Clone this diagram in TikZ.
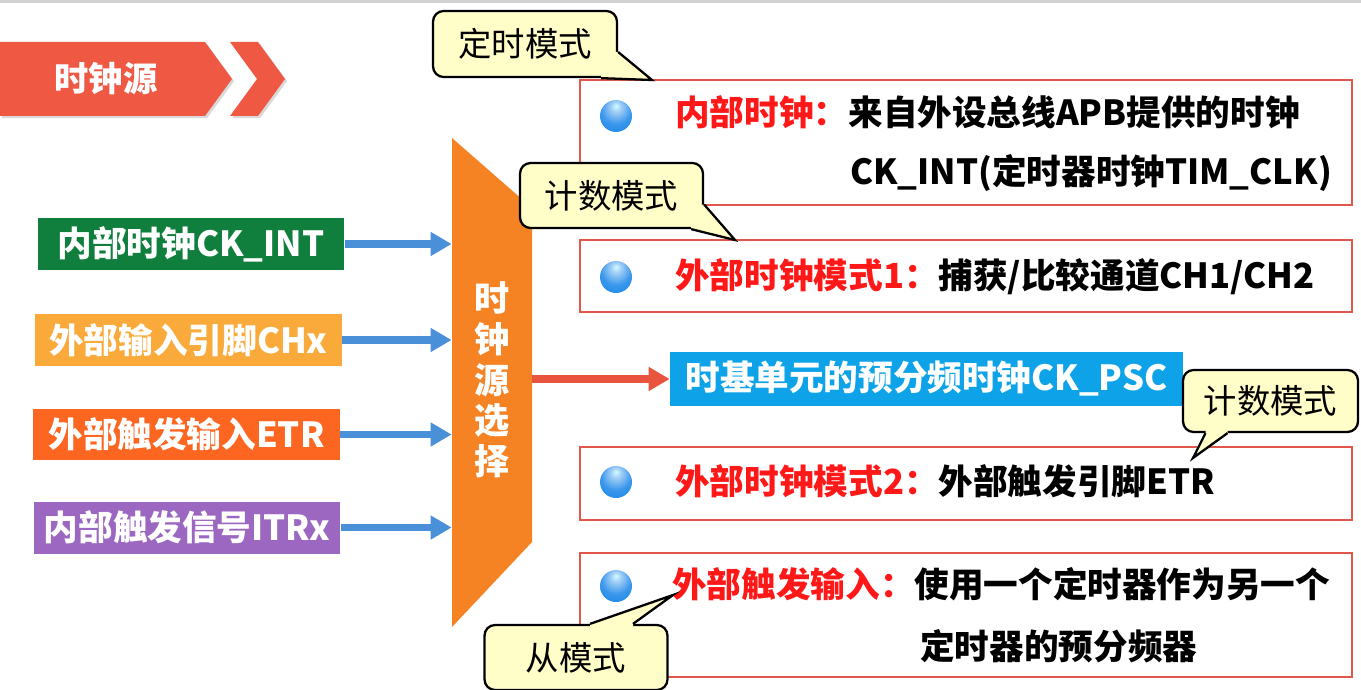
\documentclass[tikz,border=0pt]{standalone}
\usepackage{fontspec}
\setmainfont{Noto Sans CJK SC}
\usepackage{xcolor}
\usetikzlibrary{arrows.meta,positioning,calc,shadows}

\definecolor{bannerred}{RGB}{239,88,66}
\definecolor{ckgreen}{RGB}{16,127,62}
\definecolor{chxyellow}{RGB}{250,170,58}
\definecolor{etrorange}{RGB}{252,102,33}
\definecolor{itrpurple}{RGB}{156,103,193}
\definecolor{muxorange}{RGB}{245,130,35}
\definecolor{arrowblue}{RGB}{74,144,217}
\definecolor{arrowred}{RGB}{232,84,62}
\definecolor{pscblue}{RGB}{14,163,232}
\definecolor{boxred}{RGB}{224,88,76}
\definecolor{textred}{RGB}{255,24,24}
\definecolor{tipyellow}{RGB}{255,253,200}
\definecolor{bulletblue}{RGB}{22,132,232}

\pgfdeclareradialshading{bulletshade}{\pgfpoint{0bp}{16bp}}{%
  color(0bp)=(white!80!cyan); color(8bp)=(bulletblue!40!white);
  color(24bp)=(bulletblue!85!white); color(44bp)=(bulletblue); color(80bp)=(bulletblue!80!black)}

\begin{document}
\begin{tikzpicture}[
  x=0.02cm, y=-0.02cm,
  >=Latex,
  big/.style={font=\bfseries\fontsize{19.7}{24}\selectfont},
  srcbox/.style={big, text=white, minimum width=6.14cm, minimum height=1.04cm, inner sep=0pt},
  infobox/.style={draw=boxred, line width=1.6pt, minimum width=15.44cm, inner sep=0pt},
  line/.style={big, anchor=west, inner sep=0pt},
  bullet/.style={circle, minimum size=0.64cm, inner sep=0pt, shading=bulletshade},
  tipbox/.style={draw=black, line width=1.3pt, fill=tipyellow, rounded corners=6pt, inner sep=0pt,
    minimum width=3.66cm, minimum height=1.3cm, font=\fontsize{19}{22}\selectfont},
  tailline/.style={draw=black, line width=1.3pt},
  feed/.style={-{Triangle[length=12pt,width=13pt]}, line width=4pt, draw=arrowblue}
]
\clip (0,0) rectangle (1361,689);
\fill[gray!35] (0,0) rectangle (1361,3);

\fill[bannerred, drop shadow={opacity=0.3, shadow xshift=1.2pt, shadow yshift=-1.2pt}]
  (0,42) -- (205,42) -- (232,79) -- (205,116) -- (0,116) -- cycle;
\fill[bannerred, drop shadow={opacity=0.3, shadow xshift=1.2pt, shadow yshift=-1.2pt}]
  (230,42) -- (258,42) -- (285,79) -- (258,116) -- (230,116) -- (257,79) -- cycle;
\node[font=\bfseries\fontsize{19.5}{22}\selectfont, text=white] (title) at (106,79) {时钟源};

\node[srcbox, fill=ckgreen] (ckint) at (191,244) {内部时钟CK\_INT};
\node[srcbox, fill=chxyellow] (chx) at (188.5,340) {外部输入引脚CHx};
\node[srcbox, fill=etrorange] (etr) at (186.5,434.5) {外部触发输入ETR};
\node[srcbox, fill=itrpurple] (itrx) at (187,527.5) {内部触发信号ITRx};

\fill[muxorange] (452,138) -- (532,208) -- (532,542) -- (452,627) -- cycle;
\node[big, text=white, align=center, minimum width=1.6cm, inner sep=0pt,
  font=\bfseries\fontsize{20}{23.2}\selectfont] (sel) at (492,380) {时\\钟\\源\\选\\择};

\node[big, text=white, fill=pscblue, minimum width=10.26cm, minimum height=1.08cm, inner sep=0pt]
  (psc) at (926.5,379) {时基单元的预分频时钟CK\_PSC};

\draw[feed] (ckint.east) -- (ckint.east -| sel.west);
\draw[feed] (chx.east) -- (chx.east -| sel.west);
\draw[feed] (etr.east) -- (etr.east -| sel.west);
\draw[feed] (itrx.east) -- (itrx.east -| sel.west);
\draw[feed, draw=arrowred] (psc.west -| sel.east) -- (psc.west);

\node[infobox, minimum height=2.5cm] (mode1) at (966,142.5) {};
\node[infobox, minimum height=1.44cm] (mode2) at (966,276) {};
\node[infobox, minimum height=1.46cm] (mode3) at (966,483.5) {};
\node[infobox, minimum height=2.48cm] (mode4) at (966,615) {};

\node[bullet] (b1) at (616,116) {};
\node[bullet] (b2) at (616,277) {};
\node[bullet] (b3) at (616,482) {};
\node[bullet] (b4) at (616,586) {};

\node[line] (m1a) at (675,112) {\textcolor{textred}{内部时钟：}来自外设总线APB提供的时钟};
\node[line] (m1b) at (850,173) {CK\_INT(定时器时钟TIM\_CLK)};
\node[line] (m2) at (675,277) {\textcolor{textred}{外部时钟模式1：}捕获/比较通道CH1/CH2};
\node[line] (m3) at (675,481) {\textcolor{textred}{外部时钟模式2：}外部触发引脚ETR};
\node[line] (m4a) at (672,584) {\textcolor{textred}{外部触发输入：}使用一个定时器作为另一个};
\node[line] (m4b) at (920,646) {定时器的预分频器};

% callouts
\coordinate (timingtip) at (652,80);
\coordinate (count1tip) at (735,240);
\coordinate (count2tip) at (1193,458);
\coordinate (slavetip) at (673,595);

\node[tipbox, minimum width=3.68cm, minimum height=1.32cm] (timing) at (525,44) {定时模式};
\fill[tipyellow] ($(timing.east)+(0,8)$) -- (timingtip) -- ($(timing.south east)+(-17,0)$)
  -- ($(timing.south east)+(-17,-10)$) -- ($(timing.east)+(-10,8)$) -- cycle;
\draw[tailline] ($(timing.east)+(0,8)$) -- (timingtip) -- ($(timing.south east)+(-17,0)$);

\node[tipbox] (count1) at (611.5,195.5) {计数模式};
\fill[tipyellow] ($(count1.east)+(0,9)$) -- (count1tip) -- ($(count1.south east)+(-13,0)$)
  -- ($(count1.south east)+(-13,-10)$) -- ($(count1.east)+(-10,9)$) -- cycle;
\draw[tailline] ($(count1.east)+(0,9)$) -- (count1tip) -- ($(count1.south east)+(-13,0)$);

\node[tipbox, minimum width=3.5cm, minimum height=1.24cm] (count2) at (1270.5,401) {计数模式};
\fill[tipyellow] ($(count2.south)+(-65,0)$) -- (count2tip) -- ($(count2.south)+(-43,0)$)
  -- ($(count2.south)+(-43,-10)$) -- ($(count2.south)+(-65,-10)$) -- cycle;
\draw[tailline] ($(count2.south)+(-65,0)$) -- (count2tip) -- ($(count2.south)+(-43,0)$);

\node[tipbox] (slave) at (576,657.5) {从模式};
\fill[tipyellow] ($(slave.north)+(14,0)$) -- (slavetip) -- ($(slave.north)+(57,0)$)
  -- ($(slave.north)+(57,10)$) -- ($(slave.north)+(14,10)$) -- cycle;
\draw[tailline] ($(slave.north)+(14,0)$) -- (slavetip) -- ($(slave.north)+(57,0)$);
\end{tikzpicture}
\end{document}
